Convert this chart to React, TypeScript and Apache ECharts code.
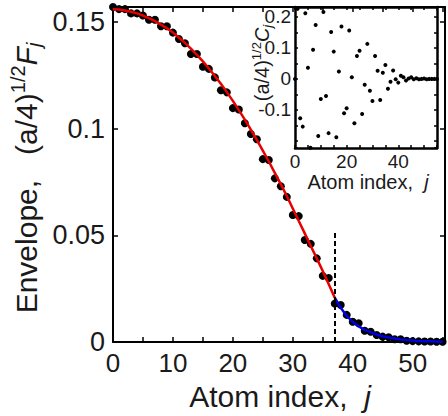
import React, { useEffect, useRef } from 'react';
import * as echarts from 'echarts';

const FONT = '"Liberation Sans", Arial, Helvetica, sans-serif';

// Atom index j
const atomIndex = [
  0, 1, 2, 3, 4, 5, 6, 7, 8, 9, 10, 11, 12, 13, 14, 15, 16, 17, 18, 19,
  20, 21, 22, 23, 24, 25, 26, 27, 28, 29, 30, 31, 32, 33, 34, 35, 36, 37, 38, 39,
  40, 41, 42, 43, 44, 45, 46, 47, 48, 49, 50, 51, 52, 53, 54, 55,
];

// Envelope (a/4)^{1/2} F_j — dots
const envelopeDots = [
  0.157, 0.156, 0.156, 0.154, 0.154, 0.153, 0.151, 0.151, 0.148, 0.148,
  0.145, 0.142, 0.14, 0.135, 0.135, 0.129, 0.128, 0.124, 0.118, 0.117,
  0.1096, 0.109, 0.1025, 0.0975, 0.095, 0.0857, 0.0853, 0.0767, 0.073, 0.068,
  0.0595, 0.059, 0.0478, 0.046, 0.0392, 0.031, 0.03, 0.018, 0.0173, 0.0127,
  0.0095, 0.0088, 0.0053, 0.0048, 0.0033, 0.0025, 0.0022, 0.0013, 0.0013, 0.0006,
  0.0004, 0.0003, 0.0002, 0.0002, 0.0001, 0.0001,
];

// Red fit, j = 0..37
const redFit = [
  0.156, 0.1558, 0.1554, 0.1548, 0.154, 0.153, 0.1518, 0.1504, 0.1488, 0.147,
  0.145, 0.1427, 0.1402, 0.1375, 0.1346, 0.1315, 0.1282, 0.1247, 0.121, 0.1171,
  0.113, 0.1087, 0.1042, 0.0995, 0.0947, 0.0897, 0.0846, 0.0793, 0.074, 0.0684,
  0.0626, 0.0567, 0.0509, 0.045, 0.0392, 0.0333, 0.0271, 0.0208,
];

// Blue fit, j = 37..55
const blueFit = [
  0.0208, 0.016, 0.0122, 0.0094, 0.0073, 0.0057, 0.0045, 0.0035, 0.0027, 0.0021,
  0.0016, 0.0012, 0.0009, 0.0007, 0.0005, 0.0004, 0.0003, 0.0002, 0.0001,
];

// Inset: (a/4)^{1/2} C_j
const insetC = [
  0.0, 0.226, -0.127, -0.154, 0.212, 0.036, -0.222, 0.094, 0.174, -0.184,
  -0.065, 0.216, -0.055, -0.175, 0.151, 0.088, -0.188, 0.024, 0.169, -0.111,
  -0.095, 0.156, 0.005, -0.143, 0.074, 0.091, -0.113, -0.019, 0.113, -0.038,
  -0.071, 0.074, 0.026, -0.068, 0.02, 0.045, -0.032, -0.009, 0.027, -0.001,
  -0.012, 0.01, 0.005, -0.005, 0.001, 0.005, -0.001, 0.002, -0.001, 0.0,
  0.001, -0.001, 0.0, 0.0, 0.0, 0.0,
];

const switchIndex = 37;
const switchLineTop = 0.052;

const mainXTicks = ['0', '10', '20', '30', '40', '50'];
const mainYTicks = ['0', '0.05', '0.1', '0.15'];
const insetXTicks = ['0', '20', '40'];
const insetYTicks = ['-0.1', '0', '0.1', '0.2'];

function fmt(v: number) {
  return String(Math.round(v * 1000) / 1000);
}

export default function App() {
  const ref = useRef<HTMLDivElement>(null);
  useEffect(() => {
    if (!ref.current) return;
    const chart = echarts.init(ref.current, undefined, { renderer: 'svg' });

    const axisLine = (w: number) => ({ show: true, onZero: false, lineStyle: { color: '#000', width: w } });
    const tick = (len: number) => ({ show: true, inside: true, length: len, lineStyle: { color: '#000', width: 1.5 } });
    const lbl = (list: string[], size: number, margin: number) => ({
      show: true,
      fontSize: size,
      fontFamily: FONT,
      color: '#1a1a1a',
      margin,
      lineHeight: size,
      formatter: (v: number) => (list.includes(fmt(v)) ? fmt(v) : ''),
    });

    const redData = redFit.map((v, i) => [atomIndex[i], v]);
    const blueData = blueFit.map((v, i) => [atomIndex[i + switchIndex], v]);

    const option: any = {
      animation: false,
      backgroundColor: '#fff',
      grid: [
        { left: 113, top: 7, width: 337, height: 335 },
        { left: 295, top: 7, width: 142, height: 141, show: true, backgroundColor: '#fff', borderWidth: 0 },
      ],
      xAxis: [
        { type: 'value', gridIndex: 0, min: 0, max: 55.4, interval: 5, axisLine: axisLine(2), axisTick: tick(5), axisLabel: lbl(mainXTicks, 26, 8), splitLine: { show: false } },
        { type: 'value', gridIndex: 0, position: 'top', min: 0, max: 55.4, interval: 5, axisLine: axisLine(2), axisTick: tick(5), axisLabel: { show: false }, splitLine: { show: false } },
        { type: 'value', gridIndex: 1, min: 0, max: 55, interval: 5, axisLine: axisLine(2.5), axisTick: tick(3), axisLabel: lbl(insetXTicks, 19, 4), splitLine: { show: false } },
        { type: 'value', gridIndex: 1, position: 'top', min: 0, max: 55, interval: 5, axisLine: axisLine(2.5), axisTick: tick(3), axisLabel: { show: false }, splitLine: { show: false } },
      ],
      yAxis: [
        { type: 'value', gridIndex: 0, min: 0, max: 0.157, interval: 0.05, axisLine: axisLine(2), axisTick: tick(5), axisLabel: lbl(mainYTicks, 27, 8), splitLine: { show: false } },
        { type: 'value', gridIndex: 0, position: 'right', min: 0, max: 0.157, interval: 0.05, axisLine: axisLine(2), axisTick: tick(5), axisLabel: { show: false }, splitLine: { show: false } },
        { type: 'value', gridIndex: 1, min: -0.223, max: 0.232, minInterval: 0.05, maxInterval: 0.05, splitNumber: 9, axisLine: axisLine(2.5), axisTick: tick(3), axisLabel: lbl(insetYTicks, 19, 4), splitLine: { show: false } },
        { type: 'value', gridIndex: 1, position: 'right', min: -0.223, max: 0.232, minInterval: 0.05, maxInterval: 0.05, splitNumber: 9, axisLine: axisLine(2.5), axisTick: tick(3), axisLabel: { show: false }, splitLine: { show: false } },
      ],
      series: [
        {
          type: 'scatter',
          xAxisIndex: 0,
          yAxisIndex: 0,
          data: envelopeDots.map((v, i) => [atomIndex[i], v]),
          symbolSize: 8,
          itemStyle: { color: '#000', opacity: 1 },
          clip: false,
          z: 2,
        },
        {
          type: 'line',
          xAxisIndex: 0,
          yAxisIndex: 0,
          data: redData,
          showSymbol: false,
          lineStyle: { color: '#e60000', width: 2.5 },
          z: 3,
          markLine: {
            symbol: 'none',
            silent: true,
            label: { show: false },
            lineStyle: { type: [5, 3], color: '#000', width: 2 },
            data: [[{ coord: [switchIndex, 0] }, { coord: [switchIndex, switchLineTop] }]],
          },
        },
        {
          type: 'line',
          xAxisIndex: 0,
          yAxisIndex: 0,
          data: blueData,
          showSymbol: false,
          lineStyle: { color: '#0000e0', width: 2.5 },
          z: 3,
        },
        {
          type: 'scatter',
          xAxisIndex: 2,
          yAxisIndex: 2,
          data: insetC.map((v, i) => [atomIndex[i], v]),
          symbolSize: 4,
          itemStyle: { color: '#000', opacity: 1 },
          clip: false,
          z: 4,
        },
      ],
      graphic: [
        {
          type: 'text',
          x: 26,
          y: 178,
          rotation: Math.PI / 2,
          style: {
            text: '{n|Envelope,   (a/4)}{sup|1/2}{it|F}{sub|j}',
            align: 'center',
            verticalAlign: 'middle',
            textAlign: 'center',
            textVerticalAlign: 'middle',
            fill: '#1a1a1a',
            rich: {
              n: { fontSize: 30, fontFamily: FONT, lineHeight: 36, fill: '#1a1a1a' },
              sup: { fontSize: 20, fontFamily: FONT, verticalAlign: 'top', lineHeight: 20, fill: '#1a1a1a' },
              it: { fontSize: 30, fontFamily: FONT, fontStyle: 'italic', lineHeight: 36, fill: '#1a1a1a' },
              sub: { fontSize: 20, fontFamily: FONT, fontStyle: 'italic', verticalAlign: 'bottom', lineHeight: 20, fill: '#1a1a1a' },
            },
          },
        },
        {
          type: 'text',
          x: 280,
          y: 396,
          style: {
            text: '{n|Atom index,  }{it|j}',
            align: 'center',
            verticalAlign: 'middle',
            textAlign: 'center',
            textVerticalAlign: 'middle',
            fill: '#1a1a1a',
            rich: {
              n: { fontSize: 30, fontFamily: FONT, lineHeight: 32, fill: '#1a1a1a' },
              it: { fontSize: 30, fontFamily: FONT, fontStyle: 'italic', lineHeight: 32, fill: '#1a1a1a' },
            },
          },
        },
        {
          type: 'text',
          x: 368,
          y: 182,
          style: {
            text: '{n|Atom index,  }{it|j}',
            align: 'center',
            verticalAlign: 'middle',
            textAlign: 'center',
            textVerticalAlign: 'middle',
            fill: '#1a1a1a',
            rich: {
              n: { fontSize: 20, fontFamily: FONT, lineHeight: 20, fill: '#1a1a1a' },
              it: { fontSize: 20, fontFamily: FONT, fontStyle: 'italic', lineHeight: 20, fill: '#1a1a1a' },
            },
          },
        },
        {
          type: 'text',
          x: 262,
          y: 63,
          rotation: Math.PI / 2,
          style: {
            text: '{n|(a/4)}{sup|1/2}{it|C}{sub|j}',
            align: 'center',
            verticalAlign: 'middle',
            textAlign: 'center',
            textVerticalAlign: 'middle',
            fill: '#1a1a1a',
            rich: {
              n: { fontSize: 20, fontFamily: FONT, lineHeight: 24, fill: '#1a1a1a' },
              sup: { fontSize: 13, fontFamily: FONT, verticalAlign: 'top', lineHeight: 13, fill: '#1a1a1a' },
              it: { fontSize: 20, fontFamily: FONT, fontStyle: 'italic', lineHeight: 24, fill: '#1a1a1a' },
              sub: { fontSize: 13, fontFamily: FONT, fontStyle: 'italic', verticalAlign: 'bottom', lineHeight: 13, fill: '#1a1a1a' },
            },
          },
        },
      ],
    };

    chart.setOption(option);
    return () => chart.dispose();
  }, []);

  return (
    <div
      ref={ref}
      style={{ position: 'absolute', left: 0, top: 0, width: 448, height: 416, background: '#fff' }}
    />
  );
}
